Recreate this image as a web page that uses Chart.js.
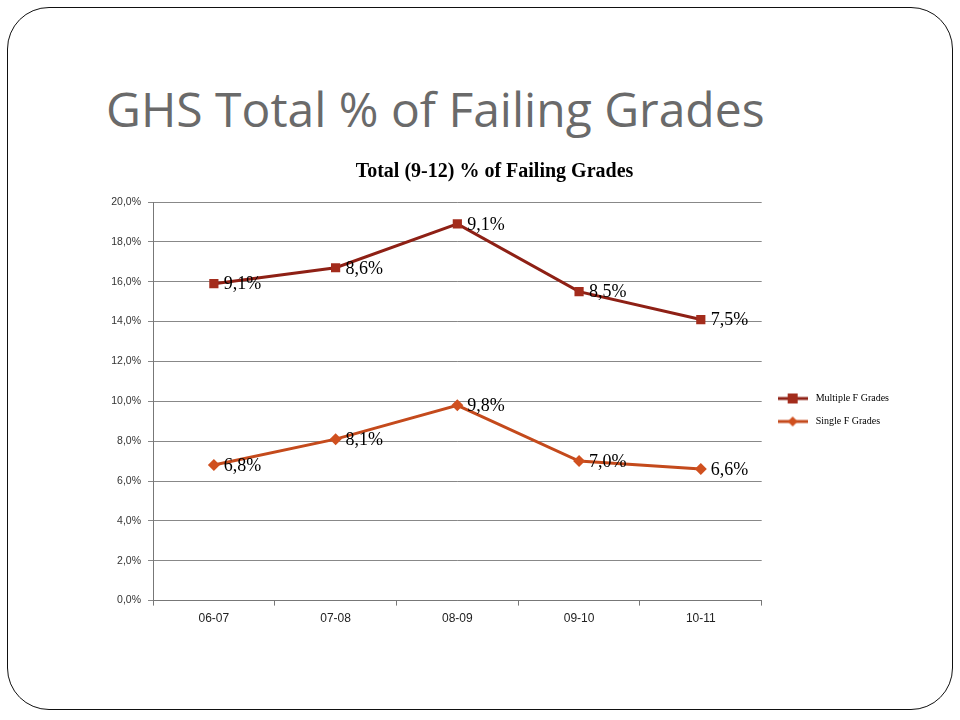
<!DOCTYPE html>
<html>
<head>
<meta charset="utf-8">
<script src="https://cdn.jsdelivr.net/npm/chart.js@4"></script>
<style>
    html, body { margin: 0; padding: 0; background: #fff; }
    body { width: 960px; height: 720px; position: relative; overflow: hidden; }
    .slide {
        position: absolute; left: 7px; top: 7px; width: 944px; height: 701px;
        border: 1.3px solid #111; border-radius: 42px;
    }
    .heading {
        position: absolute; left: 106px; top: 76px;
        font-family: 'Open Sans', sans-serif; font-size: 48px; color: #6a6a6a;
        white-space: nowrap; letter-spacing: 0;
    }
    .box { position: absolute; left: 90px; top: 150px; width: 840px; height: 490px; }
</style>
</head>
<body>
<div class="slide"></div>
<div class="heading">GHS Total % of Failing Grades</div>
<div class="box"><canvas id="chart"></canvas></div>
<script>
const years = ['06-07', '07-08', '08-09', '09-10', '10-11'];
const singleF = [6.8, 8.1, 9.8, 7.0, 6.6];
const multipleF = [9.1, 8.6, 9.1, 8.5, 7.5];
const yTicks = [0, 2, 4, 6, 8, 10, 12, 14, 16, 18, 20];

const pct = v => v.toFixed(1).replace('.', ',') + '%';

// little legend swatch: line with marker in the middle
function swatch(color, lineColor, shape) {
    const c = document.createElement('canvas');
    c.width = 30; c.height = 12;
    const ctx = c.getContext('2d');
    ctx.strokeStyle = lineColor;
    ctx.lineWidth = 3;
    ctx.beginPath(); ctx.moveTo(0, 6); ctx.lineTo(30, 6); ctx.stroke();
    ctx.fillStyle = color;
    if (shape === 'rect') {
        ctx.fillRect(10, 1, 10, 10);
    } else {
        ctx.beginPath();
        ctx.moveTo(15, 1); ctx.lineTo(20, 6); ctx.lineTo(15, 11); ctx.lineTo(10, 6);
        ctx.closePath(); ctx.fill();
    }
    return c;
}

const valueLabels = {
    id: 'valueLabels',
    afterDatasetsDraw(chart) {
        const ctx = chart.ctx;
        ctx.save();
        ctx.font = '18px "Liberation Serif", serif';
        ctx.fillStyle = '#000';
        ctx.textAlign = 'left';
        ctx.textBaseline = 'middle';
        chart.data.datasets.forEach((ds, i) => {
            chart.getDatasetMeta(i).data.forEach((pt, j) => {
                ctx.fillText(pct(ds.data[j]), pt.x + 10, pt.y + 1);
            });
        });
        ctx.restore();
    }
};

const chart = new Chart(document.querySelector('#chart'), {
    type: 'line',
    data: {
        labels: years,
        datasets: [
            {
                label: 'Single F Grades',
                data: singleF,
                borderColor: '#C44A1C',
                backgroundColor: '#D0501F',
                borderWidth: 3,
                pointStyle: 'rectRot',
                pointRadius: 6,
                pointBorderWidth: 0,
                tension: 0,
                fill: false,
            },
            {
                label: 'Multiple F Grades',
                data: multipleF,
                borderColor: '#8E2015',
                backgroundColor: '#A32C1C',
                borderWidth: 3,
                pointStyle: 'rect',
                pointRadius: 6.5,
                pointBorderWidth: 0,
                tension: 0,
                fill: false,
            }
        ]
    },
    options: {
        responsive: true,
        maintainAspectRatio: false,
        animation: false,
        layout: { padding: { right: 31, bottom: 8 } },
        scales: {
            x: {
                offset: true,
                grid: { offset: true, drawOnChartArea: false, color: '#777', tickLength: 5 },
                border: { color: '#777' },
                ticks: { color: '#222', font: { family: 'Liberation Sans', size: 12 }, padding: 6 },
            },
            y: {
                stacked: true,
                min: 0,
                max: 20,
                afterBuildTicks: scale => { scale.ticks = yTicks.map(v => ({ value: v })); },
                afterFit: scale => { scale.width = 63; },
                grid: { color: '#888', tickLength: 5 },
                border: { color: '#777' },
                ticks: {
                    color: '#333',
                    font: { family: 'Liberation Sans', size: 10.5 },
                    callback: v => pct(v),
                    padding: 7,
                }
            }
        },
        plugins: {
            title: {
                display: true,
                text: 'Total (9-12) % of Failing Grades',
                color: '#000',
                font: { family: 'Liberation Serif', size: 20, weight: 'bold' },
                padding: { top: 10, bottom: 18 },
            },
            legend: {
                position: 'right',
                reverse: true,
                title: { display: true, text: '', font: { size: 10 }, padding: { top: 26, bottom: 0 } },
                labels: {
                    color: '#000',
                    font: { family: 'Liberation Serif', size: 10 },
                    usePointStyle: true,
                    pointStyleWidth: 36,
                    padding: 13,
                    generateLabels: chart => chart.data.datasets.map((ds, i) => ({
                        text: ds.label,
                        datasetIndex: i,
                        pointStyle: swatch(ds.backgroundColor, ds.borderColor, ds.pointStyle === 'rect' ? 'rect' : 'diamond'),
                        fontColor: '#000',
                        lineWidth: 0,
                        hidden: false,
                    })),
                }
            },
            tooltip: { enabled: false }
        }
    },
    plugins: [valueLabels],
});
</script>
</body>
</html>
